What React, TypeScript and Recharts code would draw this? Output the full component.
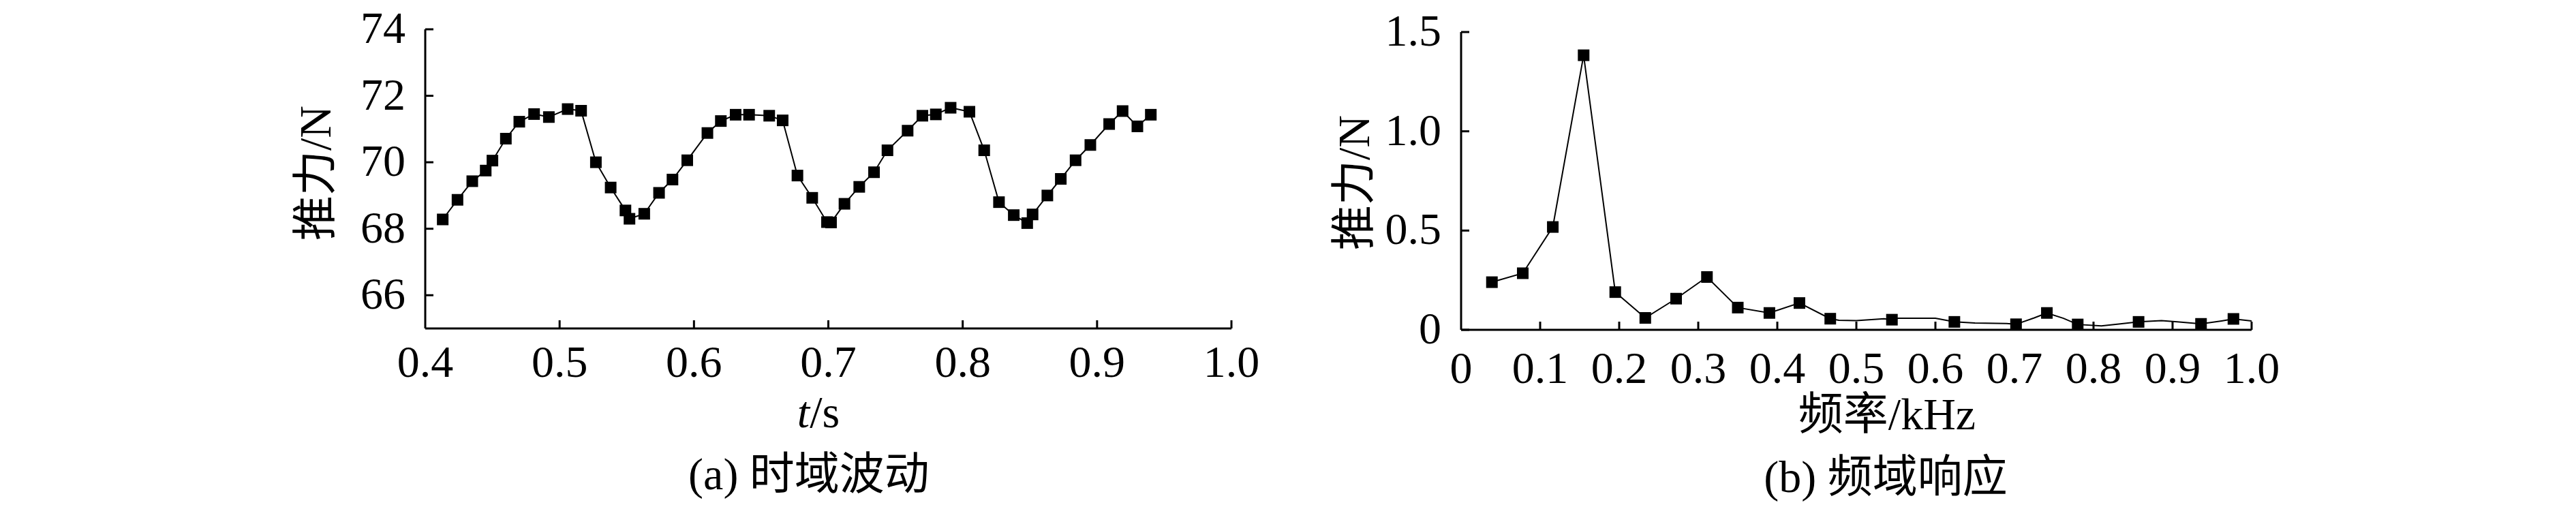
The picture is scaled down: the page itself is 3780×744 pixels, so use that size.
import React from 'react'
import { LineChart, ComposedChart, Line, Scatter, XAxis, YAxis } from 'recharts'

// (a) time-domain thrust fluctuation
const timeS = [
  0.413, 0.424, 0.435, 0.445, 0.45, 0.46, 0.47, 0.481, 0.492, 0.506, 0.516, 0.527, 0.538,
  0.549, 0.552, 0.563, 0.574, 0.584, 0.595, 0.61, 0.62, 0.631, 0.641, 0.656, 0.666, 0.677,
  0.688, 0.699, 0.702, 0.712, 0.723, 0.734, 0.744, 0.759, 0.77, 0.78, 0.791, 0.805, 0.816,
  0.827, 0.838, 0.848, 0.852, 0.863, 0.873, 0.884, 0.895, 0.909, 0.919, 0.93, 0.94,
]
const thrustN = [
  68.28, 68.87, 69.43, 69.75, 70.05, 70.71, 71.22, 71.45, 71.36, 71.6, 71.55, 70.0, 69.24,
  68.55, 68.3, 68.45, 69.08, 69.48, 70.06, 70.88, 71.24, 71.43, 71.43, 71.4, 71.26, 69.6,
  68.93, 68.2, 68.19, 68.75, 69.26, 69.7, 70.36, 70.95, 71.4, 71.44, 71.64, 71.52, 70.36,
  68.8, 68.41, 68.17, 68.43, 69.0, 69.5, 70.06, 70.52, 71.15, 71.54, 71.08, 71.43,
]
const timeTicks = [0.4, 0.5, 0.6, 0.7, 0.8, 0.9, 1.0]
const thrustTicks = [66, 68, 70, 72, 74]

// (b) frequency response: marked points
const freqMarked = [
  0.039, 0.078, 0.116, 0.155, 0.195, 0.233, 0.272, 0.311, 0.35, 0.39, 0.428, 0.467, 0.545,
  0.624, 0.702, 0.741, 0.78, 0.857, 0.936, 0.977,
]
const ampMarked = [
  0.24, 0.285, 0.518, 1.383, 0.19, 0.06, 0.157, 0.266, 0.112, 0.085, 0.135, 0.056, 0.051,
  0.04, 0.028, 0.085, 0.027, 0.04, 0.03, 0.055,
]
// the drawn polyline also bends at some unmarked vertices
const freqCurve = [
  0.039, 0.078, 0.116, 0.155, 0.195, 0.233, 0.272, 0.311, 0.35, 0.39, 0.428, 0.467, 0.478,
  0.5, 0.535, 0.545, 0.553, 0.6, 0.624, 0.65, 0.69, 0.702, 0.725, 0.741, 0.762, 0.78, 0.81,
  0.834, 0.857, 0.886, 0.906, 0.936, 0.962, 0.977, 1.0,
]
const ampCurve = [
  0.24, 0.285, 0.518, 1.383, 0.19, 0.06, 0.157, 0.266, 0.112, 0.085, 0.135, 0.056, 0.048,
  0.046, 0.056, 0.051, 0.058, 0.058, 0.04, 0.034, 0.032, 0.028, 0.06, 0.085, 0.058, 0.027,
  0.02, 0.03, 0.04, 0.046, 0.04, 0.03, 0.045, 0.055, 0.045,
]
const freqTicks = [0, 0.1, 0.2, 0.3, 0.4, 0.5, 0.6, 0.7, 0.8, 0.9, 1.0]
const ampTicks = [0, 0.5, 1.0, 1.5]

const FONT = '"Liberation Serif", "Times New Roman", "Noto Sans CJK SC", serif'
const FS = 66

const timeData = timeS.map((t, i) => ({ t, v: thrustN[i] }))
const markData = freqMarked.map((f, i) => ({ f, a: ampMarked[i] }))
const curveData = freqCurve.map((f, i) => ({ f, a: ampCurve[i] }))

const fmt1 = (v: number) => (v === 0 ? '0' : v.toFixed(1))
const fmtInt = (v: number) => String(v)

// ticks point inwards; labels sit outside
const makeYTick = (fmt: (v: number) => string) => (props: any) => {
  const { x, y, payload } = props
  return (
    <g>
      <line x1={x} y1={y} x2={x + 12} y2={y} stroke="#000" strokeWidth={3} />
      <text x={x - 29} y={y + 20} textAnchor="end" fontSize={FS} fontFamily={FONT} fill="#000">
        {fmt(payload.value)}
      </text>
    </g>
  )
}

const makeXTick = (fmt: (v: number) => string, dy: number) => (props: any) => {
  const { x, y, payload, index } = props
  return (
    <g>
      {index > 0 && <line x1={x} y1={y} x2={x} y2={y - 12} stroke="#000" strokeWidth={3} />}
      <text x={x} y={y + dy} textAnchor="middle" fontSize={FS} fontFamily={FONT} fill="#000">
        {fmt(payload.value)}
      </text>
    </g>
  )
}

const squareDot = (p: any) => (
  <rect key={`d${p.index}`} x={p.cx - 8.5} y={p.cy - 8.5} width={17} height={17} fill="#000" />
)

const squareShape = (p: any) => (
  <rect x={p.cx - 8.5} y={p.cy - 8.5} width={17} height={17} fill="#000" />
)

function TimeChart() {
  return (
    <div style={{ position: 'absolute', left: 0, top: 0 }}>
      <LineChart
        width={1900}
        height={744}
        data={timeData}
        margin={{ top: 43, right: 93, bottom: 182, left: 0 }}
      >
        <XAxis
          dataKey="t"
          type="number"
          domain={[0.4, 1.0]}
          ticks={timeTicks}
          interval={0}
          height={80}
          tickSize={0}
          tickMargin={0}
          tickLine={false}
          axisLine={{ stroke: '#000', strokeWidth: 3 }}
          tick={makeXTick(fmt1, 71)}
        />
        <YAxis
          type="number"
          domain={[65, 74]}
          ticks={thrustTicks}
          interval={0}
          width={624}
          tickSize={0}
          tickMargin={0}
          tickLine={false}
          axisLine={{ stroke: '#000', strokeWidth: 3 }}
          tick={makeYTick(fmtInt)}
        />
        <Line
          dataKey="v"
          stroke="#000"
          strokeWidth={2}
          dot={squareDot}
          activeDot={false}
          isAnimationActive={false}
        />
      </LineChart>
    </div>
  )
}

function FreqChart() {
  return (
    <div style={{ position: 'absolute', left: 1900, top: 0 }}>
      <ComposedChart width={1500} height={744} margin={{ top: 47, right: 96, bottom: 180, left: 0 }}>
        <XAxis
          dataKey="f"
          type="number"
          domain={[0, 1.0]}
          ticks={freqTicks}
          interval={0}
          height={80}
          tickSize={0}
          tickMargin={0}
          tickLine={false}
          axisLine={{ stroke: '#000', strokeWidth: 3 }}
          tick={makeXTick(fmt1, 78)}
        />
        <YAxis
          type="number"
          domain={[0, 1.5]}
          ticks={ampTicks}
          interval={0}
          width={244}
          tickSize={0}
          tickMargin={0}
          tickLine={false}
          axisLine={{ stroke: '#000', strokeWidth: 3 }}
          tick={makeYTick(fmt1)}
        />
        <Line
          data={curveData}
          dataKey="a"
          stroke="#000"
          strokeWidth={2}
          dot={false}
          activeDot={false}
          isAnimationActive={false}
        />
        <Scatter data={markData} dataKey="a" shape={squareShape} isAnimationActive={false} />
      </ComposedChart>
    </div>
  )
}

export default function App() {
  return (
    <div style={{ position: 'relative', width: 3780, height: 744, background: '#fff', overflow: 'hidden' }}>
      <style>{'body{margin:0}'}</style>
      <TimeChart />
      <FreqChart />
      <svg
        width={3780}
        height={744}
        style={{ position: 'absolute', left: 0, top: 0, pointerEvents: 'none' }}
        fontFamily={FONT}
        fontSize={FS}
        fill="#000"
      >
        <text transform="translate(462,254) rotate(-90)" textAnchor="middle" dominantBaseline="central">
          推力/N
        </text>
        <text x={1201} y={627} textAnchor="middle">
          <tspan fontStyle="italic">t</tspan>/s
        </text>
        <text x={1187} y={718} textAnchor="middle">
          (a) 时域波动
        </text>
        <text transform="translate(1986,268) rotate(-90)" textAnchor="middle" dominantBaseline="central">
          推力/N
        </text>
        <text x={2769} y={630} textAnchor="middle">
          频率/kHz
        </text>
        <text x={2767} y={722} textAnchor="middle">
          (b) 频域响应
        </text>
      </svg>
    </div>
  )
}
